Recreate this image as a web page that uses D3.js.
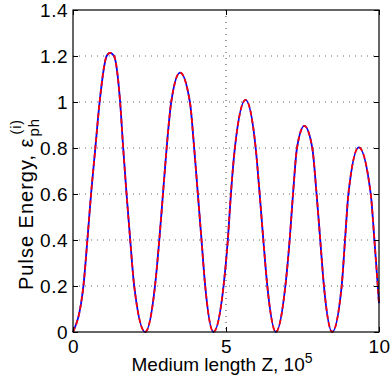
<!DOCTYPE html>
<html>
<head>
<meta charset="utf-8">
<script src="https://cdn.jsdelivr.net/npm/d3@7/dist/d3.min.js"></script>
<style>
  body { margin: 0; background: #fff; }
  text { font-family: "Liberation Sans", Arial, Helvetica, sans-serif; fill: #000; }
</style>
</head>
<body>
<script>
// values (Z in units of 10^5)
const zValues = [0, 0.34, 0.47, 0.59, 0.73, 0.87, 1.10, 1.21, 1.34, 1.54, 1.64, 1.75, 1.87, 2.00, 2.36,
    2.68, 2.82, 2.94, 3.06, 3.21, 3.50, 3.82, 3.96, 4.08, 4.20, 4.32, 4.59,
    4.92, 5.06, 5.16, 5.29, 5.64, 5.97, 6.10, 6.22, 6.35, 6.63,
    6.94, 7.08, 7.19, 7.32, 7.56, 7.82, 7.96, 8.08, 8.20, 8.47,
    8.78, 8.89, 9.00, 9.34, 9.73, 9.85, 9.96, 10];
const energyPh = [0, 0.2, 0.4, 0.6, 0.8, 1.0, 1.2, 1.214, 1.2, 1.0, 0.8, 0.6, 0.4, 0.2, 0,
    0.2, 0.4, 0.6, 0.8, 1.0, 1.128, 1.0, 0.8, 0.6, 0.4, 0.2, 0,
    0.2, 0.4, 0.6, 0.8, 1.009, 0.8, 0.6, 0.4, 0.2, 0,
    0.2, 0.4, 0.6, 0.8, 0.896, 0.8, 0.6, 0.4, 0.2, 0,
    0.2, 0.4, 0.6, 0.803, 0.6, 0.4, 0.2, 0.125];
const energyModel = [0, 0.2, 0.4, 0.6, 0.8, 1.0, 1.2, 1.214, 1.2, 1.0, 0.8, 0.6, 0.4, 0.2, 0,
    0.2, 0.4, 0.6, 0.8, 1.0, 1.128, 1.0, 0.8, 0.6, 0.4, 0.2, 0,
    0.2, 0.4, 0.6, 0.8, 1.009, 0.8, 0.6, 0.4, 0.2, 0,
    0.2, 0.4, 0.6, 0.8, 0.896, 0.8, 0.6, 0.4, 0.2, 0,
    0.2, 0.4, 0.6, 0.803, 0.6, 0.4, 0.2, 0.125];
const xTicks = [0, 5, 10];
const yTicks = [0, 0.2, 0.4, 0.6, 0.8, 1, 1.2, 1.4];
const yTickLabels = ["0", "0.2", "0.4", "0.6", "0.8", "1", "1.2", "1.4"];

const margin = {top: 10, right: 11, bottom: 45, left: 73};
const width = 390 - margin.left - margin.right;
const height = 377 - margin.top - margin.bottom;

const x = d3.scaleLinear().domain([0, 10]).range([0, width]);
const y = d3.scaleLinear().domain([0, 1.4]).range([height, 0]);

const svg = d3.select("body").append("svg")
    .attr("width", 390)
    .attr("height", 377);

const g = svg.append("g")
    .attr("transform", `translate(${margin.left},${margin.top})`);

// dotted grid
g.selectAll("line.hgrid")
    .data(yTicks.filter(d => d > 0 && d < 1.4))
    .enter().append("line")
    .attr("class", "hgrid")
    .attr("x1", 0).attr("x2", width)
    .attr("y1", d => y(d)).attr("y2", d => y(d))
    .attr("stroke", "#666")
    .attr("stroke-width", 1)
    .attr("stroke-dasharray", "1,5");

g.selectAll("line.vgrid")
    .data(xTicks.filter(d => d > 0 && d < 10))
    .enter().append("line")
    .attr("class", "vgrid")
    .attr("x1", d => x(d)).attr("x2", d => x(d))
    .attr("y1", 0).attr("y2", height)
    .attr("stroke", "#444")
    .attr("stroke-width", 1)
    .attr("stroke-dasharray", "1,5");

// curves
const pts = (arr) => zValues.map((z, i) => [z, arr[i]]);
const line = d3.line()
    .x(d => x(d[0]))
    .y(d => y(d[1]))
    .curve(d3.curveMonotoneX);

g.append("path")
    .datum(pts(energyPh))
    .attr("d", line)
    .attr("fill", "none")
    .attr("stroke", "#0000ff")
    .attr("stroke-width", 1.8);

g.append("path")
    .datum(pts(energyModel))
    .attr("d", line)
    .attr("fill", "none")
    .attr("stroke", "#ff0000")
    .attr("stroke-width", 1.8)
    .attr("stroke-dasharray", "5,3");

// axes (ticks inside, box around)
g.append("g")
    .call(d3.axisLeft(y).tickValues(yTicks).tickSize(-5).tickPadding(5)
        .tickFormat((d, i) => yTickLabels[i]));
g.append("g")
    .attr("transform", `translate(${width},0)`)
    .call(d3.axisRight(y).tickValues(yTicks).tickSize(-5).tickFormat(""));
g.append("g")
    .attr("transform", `translate(0,${height})`)
    .call(d3.axisBottom(x).tickValues(xTicks).tickSize(-5).tickPadding(8)
        .tickFormat(d3.format("d")));
g.append("g")
    .call(d3.axisTop(x).tickValues(xTicks).tickSize(-5).tickFormat(""));

g.selectAll(".domain").remove();
g.selectAll(".tick line").attr("stroke", "#000");
g.selectAll(".tick text")
    .attr("font-size", 19)
    .attr("font-family", null)
    .attr("letter-spacing", 0.5);

g.append("rect")
    .attr("width", width)
    .attr("height", height)
    .attr("fill", "none")
    .attr("stroke", "#000")
    .attr("stroke-width", 1.2);

// x label
const xl = svg.append("text")
    .attr("x", margin.left + width / 2 - 4)
    .attr("y", 371)
    .attr("text-anchor", "middle")
    .attr("font-size", 19);
xl.append("tspan").text("Medium length Z, 10");
xl.append("tspan").attr("font-size", 14).attr("dy", -8).text("5");

// y label, eps with stacked sub/superscript
const yl = svg.append("g")
    .attr("transform", "translate(33,290) rotate(-90)");
const ylMain = yl.append("text")
    .attr("font-size", 20)
    .attr("letter-spacing", 1)
    .text("Pulse Energy, \u03b5");
const mainLen = ylMain.node().getComputedTextLength();
yl.append("text")
    .attr("x", mainLen + 1)
    .attr("y", 6)
    .attr("font-size", 15)
    .attr("letter-spacing", 1)
    .text("ph");
yl.append("text")
    .attr("x", mainLen + 3)
    .attr("y", -12)
    .attr("font-size", 14)
    .attr("letter-spacing", 1)
    .text("(i)");
</script>
</body>
</html>
